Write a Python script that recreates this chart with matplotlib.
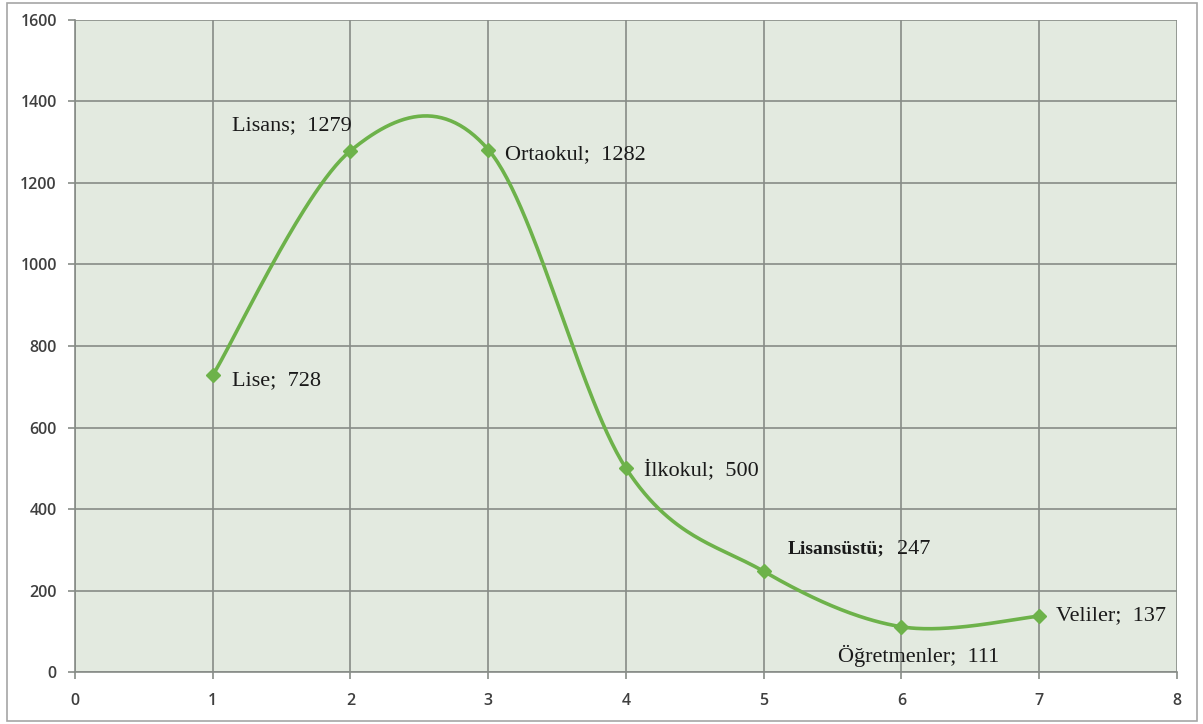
import numpy as np
import matplotlib
matplotlib.use("Agg")
from matplotlib import pyplot as plt
from matplotlib.patches import Rectangle

plt.rcParams["font.family"] = "Open Sans"

# values per group
groups = ["Lise", "Lisans", "Ortaokul", "İlkokul", "Lisansüstü", "Öğretmenler", "Veliler"]
xs = [1, 2, 3, 4, 5, 6, 7]
counts = [728, 1279, 1282, 500, 247, 111, 137]

# label offsets in points (dx, dy) and horizontal alignment
offsets = [(14, -4, "left"), (-85, 18, "left"), (12, -4, "left"), (13, -1, "left"),
           (17, 16, "left"), (12, -21, "center"), (12, 0, "left")]

GREEN = "#6db24a"


def smooth_curve(x, y, n=60):
    # cubic bezier through the points, control points from neighbours (Catmull-Rom style)
    x = np.asarray(x, float)
    y = np.asarray(y, float)
    px, py = [], []
    for i in range(len(x) - 1):
        i0 = max(i - 1, 0)
        i3 = min(i + 2, len(x) - 1)
        c1x = x[i] + (x[i + 1] - x[i0]) / 6
        c1y = y[i] + (y[i + 1] - y[i0]) / 6
        c2x = x[i + 1] - (x[i3] - x[i]) / 6
        c2y = y[i + 1] - (y[i3] - y[i]) / 6
        t = np.linspace(0, 1, n)
        a, b, c, d = (1 - t) ** 3, 3 * t * (1 - t) ** 2, 3 * t ** 2 * (1 - t), t ** 3
        px.append(a * x[i] + b * c1x + c * c2x + d * x[i + 1])
        py.append(a * y[i] + b * c1y + c * c2y + d * y[i + 1])
    return np.concatenate(px), np.concatenate(py)


fig = plt.figure(figsize=(12.03, 7.24), dpi=100)
ax = fig.add_axes([0.0623, 0.0718, 0.9161, 0.9006])
ax.set_facecolor("#e3eae0")

cx, cy = smooth_curve(xs, counts)
ax.plot(cx, cy, color=GREEN, lw=2.6, solid_capstyle="round", zorder=3)
ax.plot(xs, counts, linestyle="none", marker="D", markersize=7, color=GREEN, zorder=4)

for i, (name, x, v) in enumerate(zip(groups, xs, counts)):
    dx, dy, ha = offsets[i]
    if name == "Lisansüstü":
        ax.annotate(name + ";", (x, v), xytext=(dx, dy), textcoords="offset points",
                    ha="left", va="center", fontsize=14, fontweight="bold",
                    family="Liberation Serif", color="#1a1a1a", zorder=5)
        ax.annotate(str(v), (x, v), xytext=(dx + 79, dy), textcoords="offset points",
                    ha="left", va="center", fontsize=16,
                    family="Liberation Serif", color="#1a1a1a", zorder=5)
    else:
        ax.annotate(f"{name};  {v}", (x, v), xytext=(dx, dy), textcoords="offset points",
                    ha=ha, va="center", fontsize=16,
                    family="Liberation Serif", color="#1a1a1a", zorder=5)

ax.set_xlim(0, 8)
ax.set_ylim(0, 1600)
ax.set_xticks(range(0, 9))
ax.set_yticks(range(0, 1601, 200))
ax.grid(True, color="#878c87", lw=1.2)
ax.set_axisbelow(True)
for side in ["top", "right"]:
    ax.spines[side].set_visible(False)
for side in ["left", "bottom"]:
    ax.spines[side].set_color("#878c87")
    ax.spines[side].set_linewidth(1.2)
ax.tick_params(colors="#878c87", length=5, width=1.2, labelsize=11.5, labelcolor="#3f3f3f")
ax.tick_params(axis="y", pad=8)
ax.tick_params(axis="x", pad=10)
plt.setp(ax.get_xticklabels() + ax.get_yticklabels(), fontweight="semibold")

# outer frame around the whole chart
fig.patches.append(Rectangle((0.006, 0.004), 0.989, 0.992, transform=fig.transFigure,
                             fill=False, edgecolor="#a6a6a6", lw=1.2))

fig.savefig("out.png", dpi=100)
